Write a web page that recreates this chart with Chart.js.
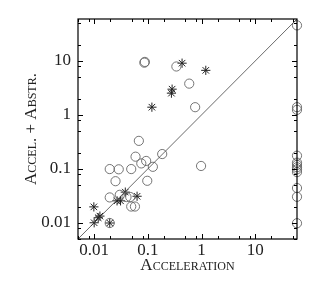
<!DOCTYPE html>
<html>
<head>
<meta charset="utf-8">
<script src="https://cdn.jsdelivr.net/npm/chart.js@4"></script>
<style>
  html, body { margin: 0; padding: 0; background: #fff; }
  #wrap { width: 332px; height: 291px; }
</style>
</head>
<body>
<div id="wrap"><canvas id="chart"></canvas></div>
<script>
// runs that timed out are put at the right edge of the plot
const TIMEOUT = 60;

const circleX = [0.086, 0.088, 0.34, 0.59, 0.76, 0.068, 0.059, 0.0755, 0.093, 0.124, 0.185, 0.98,
  0.0195, 0.0287, 0.049, 0.025, 0.0975, 0.0195, 0.03, 0.04, 0.047, 0.049, 0.0575, 0.0195,
  TIMEOUT, TIMEOUT, TIMEOUT, TIMEOUT, TIMEOUT, TIMEOUT, TIMEOUT, TIMEOUT, TIMEOUT, TIMEOUT, TIMEOUT, TIMEOUT];
const circleY = [9.3, 9.6, 7.9, 3.8, 1.39, 0.33, 0.168, 0.126, 0.14, 0.109, 0.188, 0.113,
  0.099, 0.098, 0.099, 0.059, 0.06, 0.0295, 0.033, 0.03, 0.03, 0.02, 0.02, 0.0099,
  45.7, 1.39, 1.24, 0.175, 0.13, 0.118, 0.107, 0.098, 0.087, 0.044, 0.0303, 0.0098];

const starX = [0.434, 1.2, 0.283, 0.275, 0.119, 0.038, 0.063, 0.0267, 0.031, 0.00987, 0.0128, 0.0119, 0.01, 0.0195];
const starY = [9.1, 6.7, 3.0, 2.53, 1.39, 0.037, 0.031, 0.0255, 0.0255, 0.0197, 0.0133, 0.0124, 0.01, 0.0099];

const tickValues = [0.01, 0.1, 1, 10];
const tickLabels = ['0.01', '0.1', '1', '10'];
const minorSteps = [2, 5, 8];
const axisMin = 0.005;
const axisMax = 60;

const toPoints = (xs, ys) => xs.map((x, i) => ({ x: x, y: ys[i] }));

Chart.defaults.font.family = "'Liberation Serif', 'DejaVu Serif', serif";
Chart.defaults.color = '#222';

// gnuplot style frame: box with inward ticks on all sides
const frameTicks = {
  id: 'frameTicks',
  afterDraw(chart) {
    const { ctx, chartArea: a, scales } = chart;
    const sx = scales.x, sy = scales.y;
    ctx.save();
    ctx.strokeStyle = '#000';
    ctx.lineWidth = 1;
    ctx.beginPath();
    for (let e = -3; e <= 2; e++) {
      [1].concat(minorSteps).forEach(m => {
        const v = m * Math.pow(10, e);
        if (v < axisMin || v > axisMax) return;
        const len = m === 1 ? 5 : 3;
        const px = Math.round(sx.getPixelForValue(v)) + 0.5;
        ctx.moveTo(px, a.bottom); ctx.lineTo(px, a.bottom - len);
        ctx.moveTo(px, a.top); ctx.lineTo(px, a.top + len);
        const py = Math.round(sy.getPixelForValue(v)) + 0.5;
        ctx.moveTo(a.left, py); ctx.lineTo(a.left + len, py);
        ctx.moveTo(a.right, py); ctx.lineTo(a.right - len, py);
      });
    }
    ctx.stroke();
    ctx.lineWidth = 1.2;
    ctx.strokeRect(a.left, a.top, a.right - a.left, a.bottom - a.top);
    ctx.restore();
  }
};

const logAxis = (title, fit, labelPad, titlePad) => ({
  type: 'logarithmic',
  min: axisMin,
  max: axisMax,
  grid: { display: false, tickLength: 0 },
  border: { display: false },
  afterBuildTicks: scale => { scale.ticks = tickValues.map(v => ({ value: v })); },
  afterFit: fit,
  ticks: {
    autoSkip: false,
    maxRotation: 0,
    padding: labelPad,
    font: { size: 17 },
    callback: v => tickLabels[tickValues.indexOf(v)]
  },
  title: {
    display: true,
    text: title,
    font: { size: 17, weight: 'small-caps' },
    padding: titlePad
  }
});

new Chart(document.getElementById('chart'), {
  type: 'scatter',
  data: {
    datasets: [
      {
        type: 'line',
        data: toPoints([axisMin, axisMax], [axisMin, axisMax]),
        borderColor: '#444',
        borderWidth: 0.8,
        pointRadius: 0,
        fill: false
      },
      {
        data: toPoints(circleX, circleY),
        pointStyle: 'circle',
        pointRadius: 4.6,
        borderColor: '#666',
        borderWidth: 0.9,
        backgroundColor: 'rgba(0,0,0,0)',
        clip: false
      },
      {
        data: toPoints(starX, starY),
        pointStyle: 'star',
        pointRadius: 4.6,
        borderColor: '#222',
        borderWidth: 1,
        backgroundColor: 'rgba(0,0,0,0)',
        clip: false
      }
    ]
  },
  options: {
    responsive: true,
    maintainAspectRatio: false,
    animation: false,
    layout: { padding: { left: 0, right: 35, top: 19, bottom: 0 } },
    plugins: { legend: { display: false }, tooltip: { enabled: false } },
    scales: {
      x: logAxis('Acceleration', s => { s.height = 52; }, 1, { top: 0, bottom: 15 }),
      y: logAxis('Accel. + Abstr.', s => { s.width = 78; }, 7, { top: 21, bottom: 0 })
    }
  },
  plugins: [frameTicks]
});
</script>
</body>
</html>
